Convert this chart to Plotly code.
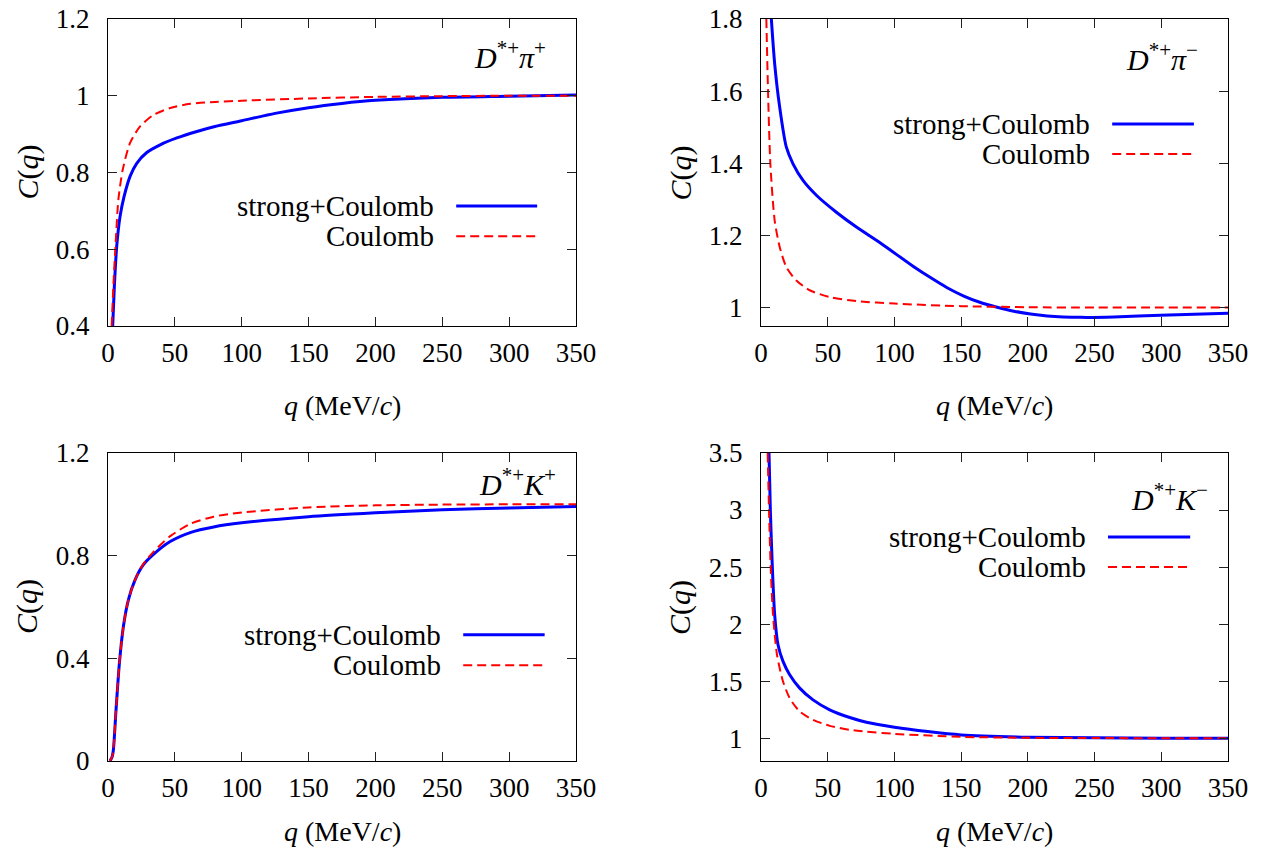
import plotly.graph_objects as go

# ---------------- data ----------------
# Panel 1: D*+ pi+
q_pp_sc = [3.5, 4.75, 6.5, 9, 12, 16.5, 21.5, 29, 39, 51.5, 66.5, 80, 100, 125, 150, 175, 200, 250, 300, 350]
c_pp_sc = [0.40, 0.503, 0.607, 0.685, 0.737, 0.79, 0.824, 0.852, 0.872, 0.89, 0.907, 0.920, 0.935, 0.954, 0.969, 0.980, 0.988, 0.996, 0.999, 1.002]
q_pp_c = [2.75, 4, 6, 7.75, 11, 16.5, 24, 34, 46.5, 61.5, 80, 100, 150, 200, 250, 300, 350]
c_pp_c = [0.40, 0.503, 0.633, 0.729, 0.807, 0.877, 0.92, 0.95, 0.968, 0.979, 0.984, 0.987, 0.993, 0.997, 0.999, 1.0, 1.0]

# Panel 2: D*+ pi-
q_pm_sc = [7.75, 10.25, 14, 19, 24, 31.5, 41.5, 56.5, 71.5, 89.5, 114.5, 127, 139.5, 152, 164.5, 177, 189.5, 202, 214.5, 239.5, 264.5, 299.5, 350]
c_pm_sc = [1.8, 1.676, 1.556, 1.445, 1.399, 1.353, 1.312, 1.265, 1.224, 1.18, 1.114, 1.084, 1.056, 1.033, 1.015, 1.002, 0.991, 0.983, 0.978, 0.974, 0.975, 0.980, 0.985]
q_pm_c = [4, 5.25, 7, 10.25, 14, 19, 26.5, 36.5, 51.5, 71.5, 100, 150, 200, 250, 300, 350]
c_pm_c = [1.8, 1.602, 1.40, 1.242, 1.169, 1.113, 1.076, 1.049, 1.030, 1.019, 1.012, 1.005, 1.002, 1.001, 1.001, 1.001]

# Panel 3: D*+ K+
q_kp_sc = [1.5, 3, 4, 6, 8.5, 11.5, 15.25, 20.25, 26.5, 34, 46.5, 62, 79, 100, 150, 200, 250, 300, 350]
c_kp_sc = [0.0, 0.015, 0.042, 0.198, 0.38, 0.524, 0.628, 0.706, 0.765, 0.805, 0.855, 0.891, 0.912, 0.928, 0.952, 0.967, 0.979, 0.986, 0.992]
q_kp_c = [1.5, 3, 4, 6, 8.5, 11.5, 15.25, 20.25, 26.5, 34, 46.5, 62, 79, 100, 150, 200, 250, 300, 350]
c_kp_c = [0.0, 0.015, 0.042, 0.198, 0.38, 0.524, 0.628, 0.706, 0.768, 0.815, 0.876, 0.925, 0.952, 0.968, 0.988, 0.996, 0.999, 1.0, 1.0]

# Panel 4: D*+ K-
q_km_sc = [6, 7, 8.5, 10.25, 12.75, 16.5, 21.5, 29, 39, 51.5, 66.5, 79, 100, 125, 150, 200, 250, 300, 350]
c_km_sc = [3.5, 3.0, 2.5, 2.082, 1.819, 1.673, 1.556, 1.439, 1.336, 1.249, 1.181, 1.14, 1.096, 1.058, 1.029, 1.009, 1.003, 1.0, 1.0]
q_km_c = [5, 6, 7.25, 9, 12, 16.5, 21.5, 29, 39, 51.5, 66.5, 79, 100, 150, 200, 250, 300, 350]
c_km_c = [3.5, 3.0, 2.5, 2.082, 1.731, 1.497, 1.351, 1.234, 1.161, 1.108, 1.073, 1.058, 1.038, 1.012, 1.003, 1.001, 1.0, 1.0]

x_ticks = [0, 50, 100, 150, 200, 250, 300, 350]
y_ticks_pp = [0.4, 0.6, 0.8, 1.0, 1.2]
y_text_pp = ["0.4", "0.6", "0.8", "1", "1.2"]
y_ticks_pm = [1.0, 1.2, 1.4, 1.6, 1.8]
y_text_pm = ["1", "1.2", "1.4", "1.6", "1.8"]
y_ticks_kp = [0, 0.4, 0.8, 1.2]
y_text_kp = ["0", "0.4", "0.8", "1.2"]
y_ticks_km = [1, 1.5, 2, 2.5, 3, 3.5]
y_text_km = ["1", "1.5", "2", "2.5", "3", "3.5"]

labels = ["<i>D</i><sup>*+</sup><i>π</i><sup>+</sup>",
          "<i>D</i><sup>*+</sup><i>π</i><sup>−</sup>",
          "<i>D</i><sup>*+</sup><i>K</i><sup>+</sup>",
          "<i>D</i><sup>*+</sup><i>K</i><sup>−</sup>"]
series_names = ["strong+Coulomb", "Coulomb"]

# ---------------- styling ----------------
PAGE_W, PAGE_H = 1267, 852
OFF = 8                       # browser body margin (figure starts at page x=8, y=8)
W, H = PAGE_W - OFF, PAGE_H - OFF
FONT = "Liberation Serif"
BLUE = "#0000ff"
RED = "#ff0000"
DASH = "9px,5px"


def fx(px):
    return (px - OFF) / W


def fy(py):
    return (H - (py - OFF)) / H


panels = [
    dict(qs=q_pp_sc, cs=c_pp_sc, qc=q_pp_c, cc=c_pp_c, yr=[0.4, 1.2], yt=y_ticks_pp, ytt=y_text_pp,
         xd=[108, 576], yd=[19, 326], lab=(0.940, 0.883), xt_y=405,
         leg=dict(tx=0.701, l0=0.744, l1=0.917, y1=0.391, y2=0.292)),
    dict(qs=q_pm_sc, cs=c_pm_sc, qc=q_pm_c, cc=c_pm_c, yr=[0.95, 1.8], yt=y_ticks_pm, ytt=y_text_pm,
         xd=[761, 1228], yd=[19, 326], lab=(0.940, 0.876), xt_y=405,
         leg=dict(tx=0.708, l0=0.752, l1=0.927, y1=0.658, y2=0.560)),
    dict(qs=q_kp_sc, cs=c_kp_sc, qc=q_kp_c, cc=c_kp_c, yr=[0.0, 1.2], yt=y_ticks_kp, ytt=y_text_kp,
         xd=[108, 576], yd=[453, 761], lab=(0.962, 0.906), xt_y=831,
         leg=dict(tx=0.716, l0=0.759, l1=0.933, y1=0.410, y2=0.311)),
    dict(qs=q_km_sc, cs=c_km_sc, qc=q_km_c, cc=c_km_c, yr=[0.8, 3.5], yt=y_ticks_km, ytt=y_text_km,
         xd=[761, 1228], yd=[453, 761], lab=(0.962, 0.857), xt_y=831,
         leg=dict(tx=0.701, l0=0.743, l1=0.919, y1=0.727, y2=0.630)),
]

fig = go.Figure()
annotations = []
shapes = []
layout = {}

for i, p in enumerate(panels):
    n = "" if i == 0 else str(i + 1)
    xa, ya = "x" + n, "y" + n
    fig.add_trace(go.Scatter(x=p["qs"], y=p["cs"], mode="lines", name=series_names[0],
                             line=dict(color=BLUE, width=3, shape="spline", smoothing=0.7),
                             xaxis=xa, yaxis=ya, showlegend=False))
    fig.add_trace(go.Scatter(x=p["qc"], y=p["cc"], mode="lines", name=series_names[1],
                             line=dict(color=RED, width=2, dash=DASH, shape="spline", smoothing=0.7),
                             xaxis=xa, yaxis=ya, showlegend=False))
    x0, x1 = p["xd"]
    yt, yb = p["yd"]
    common = dict(showgrid=False, zeroline=False, showline=True, linecolor="#000000", linewidth=1.3,
                  mirror="allticks", ticks="inside", ticklen=9, tickwidth=1.2, tickcolor="#222222",
                  automargin=False, ticklabeloverflow="allow",
                  tickfont=dict(family=FONT, size=27, color="#000000"))
    layout["xaxis" + n] = dict(domain=[fx(x0), fx(x1)], anchor=ya, range=[0, 350],
                               tickvals=x_ticks, ticklabelstandoff=2, **common)
    layout["yaxis" + n] = dict(domain=[fy(yb), fy(yt)], anchor=xa, range=p["yr"],
                               tickvals=p["yt"], ticktext=p["ytt"], ticklabelstandoff=12, **common)
    xdref, ydref = xa + " domain", ya + " domain"
    # panel label
    annotations.append(dict(x=p["lab"][0], y=p["lab"][1], xref=xdref, yref=ydref, text=labels[i],
                            showarrow=False, xanchor="right", yanchor="middle",
                            font=dict(family=FONT, size=30, color="#000000")))
    # legend (text on left, line sample on right)
    lg = p["leg"]
    for k, (yy, col, dash, wd) in enumerate([(lg["y1"], BLUE, "solid", 3), (lg["y2"], RED, DASH, 2)]):
        annotations.append(dict(x=lg["tx"], y=yy, xref=xdref, yref=ydref, text=series_names[k],
                                showarrow=False, xanchor="right", yanchor="middle",
                                font=dict(family=FONT, size=29, color="#000000")))
        shapes.append(dict(type="line", xref=xdref, yref=ydref, x0=lg["l0"], x1=lg["l1"], y0=yy, y1=yy,
                           line=dict(color=col, width=wd, dash=dash)))
    # axis titles
    annotations.append(dict(x=fx((x0 + x1) / 2), y=fy(p["xt_y"]), xref="paper", yref="paper",
                            text="<i>q</i> (MeV/<i>c</i>)", showarrow=False, xanchor="center",
                            yanchor="middle", font=dict(family=FONT, size=28, color="#000000")))
    annotations.append(dict(x=fx(x0 - 81), y=fy((yt + yb) / 2), xref="paper", yref="paper",
                            text="<i>C</i>(<i>q</i>)", showarrow=False, xanchor="center",
                            yanchor="middle", textangle=-90,
                            font=dict(family=FONT, size=30, color="#000000")))

fig.update_layout(width=W, height=H, margin=dict(l=0, r=0, t=0, b=0, autoexpand=False),
                  paper_bgcolor="white", plot_bgcolor="white", showlegend=False,
                  font=dict(family=FONT),
                  annotations=annotations, shapes=shapes, **layout)

fig.write_html("out.html")
